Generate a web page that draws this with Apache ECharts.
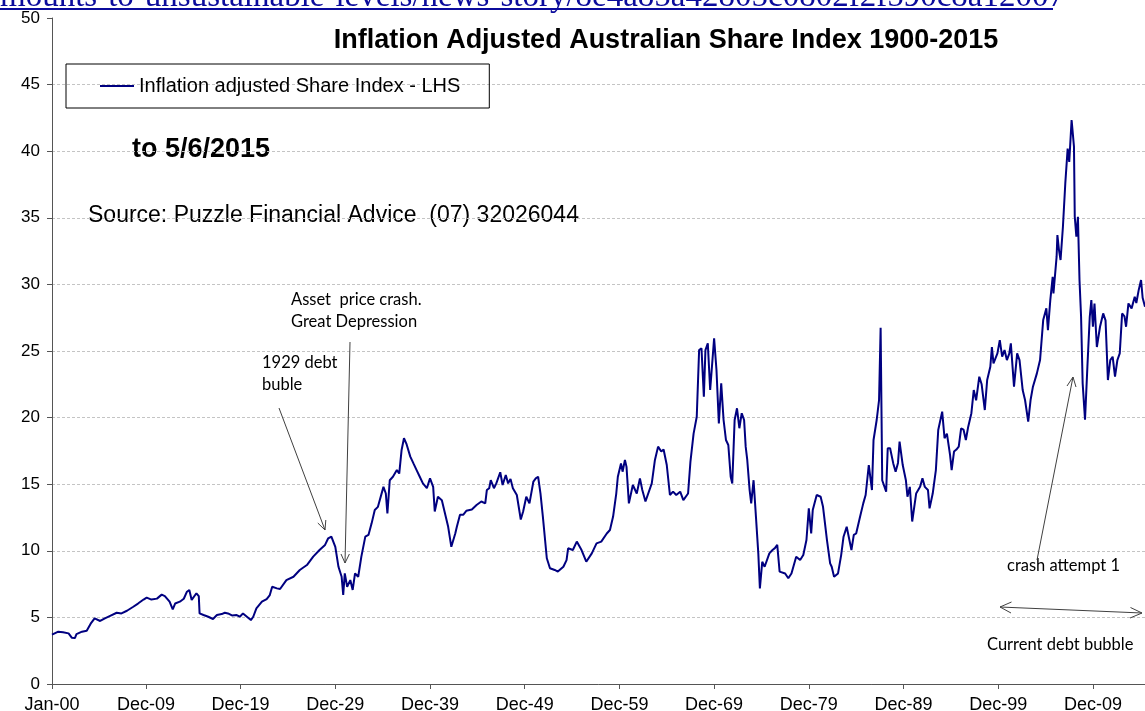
<!DOCTYPE html>
<html>
<head>
<meta charset="utf-8">
<script src="https://cdn.jsdelivr.net/npm/echarts@6/dist/echarts.min.js"></script>
<style>
  html, body { margin: 0; padding: 0; background: #fff; }
  #chart { width: 1145px; height: 711px; }
</style>
</head>
<body>
<div id="chart"></div>
<script>
// months since Jan 1900
const months = [
  0, 8, 14, 21, 25, 29, 31, 38, 44, 49, 54, 61, 67, 73, 82, 88, 95, 103, 109, 116,
  120, 126, 133, 139, 143, 149, 153, 156, 162, 167, 171, 174, 177, 183, 186, 187, 192, 198, 204, 209,
  215, 219, 223, 228, 234, 238, 242, 247, 252, 255, 259, 266, 272, 276, 279, 285, 289, 297, 306, 314,
  323, 331, 339, 346, 350, 354, 359, 363, 367, 369, 371, 374, 378, 381, 384, 388, 392, 397, 401, 405,
  409, 413, 420, 423, 425, 428, 432, 437, 440, 443, 446, 449, 454, 458, 462, 466, 470, 475, 479, 483,
  485, 489, 494, 498, 502, 506, 511, 513, 517, 521, 525, 532, 538, 544, 549, 551, 554, 556, 560, 563,
  568, 571, 575, 578, 581, 584, 589, 594, 597, 601, 605, 610, 613, 616, 619, 622, 627, 631, 637, 641,
  648, 652, 654, 660, 665, 671, 677, 684, 690, 696, 703, 707, 711, 715, 717, 721, 723, 726, 728, 731,
  736, 741, 745, 748, 752, 760, 764, 768, 772, 775, 779, 783, 787, 791, 796, 800, 806, 809, 813, 817,
  820, 823, 826, 828, 831, 834, 839, 842, 845, 848, 851, 854, 857, 860, 862, 865, 868, 871, 874, 877,
  879, 881, 884, 886, 889, 892, 895, 897, 900, 903, 909, 913, 916, 919, 922, 929, 933, 937, 943, 948,
  952, 956, 959, 962, 964, 969, 974, 977, 979, 982, 986, 988, 991, 996, 1000, 1003, 1007, 1013, 1016, 1019,
  1024, 1028, 1031, 1035, 1039, 1041, 1045, 1048, 1050, 1052, 1054, 1057, 1059, 1062, 1066, 1069, 1072, 1074, 1078, 1082,
  1084, 1087, 1090, 1095, 1100, 1103, 1106, 1110, 1112, 1116, 1120, 1123, 1128, 1131, 1134, 1138, 1140, 1143, 1146, 1149,
  1152, 1155, 1158, 1161, 1165, 1168, 1171, 1175, 1178, 1182, 1185, 1189, 1191, 1193, 1198, 1201, 1204, 1207, 1210, 1213,
  1215, 1219, 1223, 1226, 1230, 1233, 1237, 1240, 1243, 1248, 1252, 1256, 1260, 1262, 1265, 1268, 1269, 1273, 1274, 1276,
  1278, 1281, 1284, 1287, 1289, 1292, 1295, 1296, 1298, 1300, 1302, 1304, 1306, 1309, 1312, 1315, 1317, 1319, 1321, 1324,
  1328, 1332, 1335, 1338, 1341, 1344, 1347, 1350, 1353, 1356, 1359, 1361, 1364, 1368, 1372, 1374, 1377, 1380, 1382, 1385
];

const indexValues = [
  3.7, 3.93, 3.88, 3.8, 3.48, 3.45, 3.75, 3.93, 4.0, 4.53, 4.93, 4.73, 4.93, 5.1, 5.35, 5.3, 5.5, 5.8, 6.04, 6.34,
  6.49, 6.34, 6.41, 6.71, 6.6, 6.18, 5.6, 6.04, 6.18, 6.4, 6.93, 7.06, 6.31, 6.81, 6.6, 5.3, 5.18, 5.05, 4.88, 5.18,
  5.25, 5.35, 5.3, 5.15, 5.18, 5.05, 5.3, 5.05, 4.8, 5.05, 5.68, 6.18, 6.38, 6.68, 7.3, 7.18, 7.13, 7.8, 8.05, 8.56,
  8.93, 9.56, 10.06, 10.44, 10.94, 11.06, 10.3, 8.8, 8.05, 6.68, 8.3, 7.3, 7.8, 7.06, 8.3, 8.05, 9.56, 11.06, 11.19, 12.06,
  13.06, 13.3, 14.8, 14.3, 12.8, 15.3, 15.56, 16.06, 15.8, 17.57, 18.45, 18.05, 17.07, 16.56, 16.06, 15.56, 15.06, 14.7, 15.44, 14.8,
  12.95, 14.06, 13.8, 12.8, 11.8, 10.3, 11.3, 11.8, 12.7, 12.7, 13.0, 13.1, 13.44, 13.7, 13.56, 14.56, 14.7, 15.3, 14.7, 15.06,
  15.9, 14.94, 15.69, 15.06, 15.4, 14.7, 14.19, 12.35, 12.95, 14.06, 13.56, 15.2, 15.44, 15.56, 14.3, 12.57, 9.44, 8.69, 8.56, 8.44,
  8.8, 9.3, 10.19, 10.06, 10.69, 10.06, 9.18, 9.81, 10.56, 10.69, 11.3, 11.56, 12.57, 14.3, 15.56, 16.56, 15.94, 16.82, 16.3, 13.56,
  14.94, 14.3, 15.44, 14.56, 13.7, 15.06, 16.82, 17.82, 17.45, 17.6, 16.44, 14.19, 14.44, 14.19, 14.44, 13.8, 14.3, 16.7, 18.8, 20.06,
  25.07, 25.2, 21.57, 25.07, 25.57, 22.07, 25.95, 23.57, 19.56, 22.57, 19.82, 18.32, 17.94, 15.56, 15.06, 19.82, 20.7, 19.2, 20.33, 19.82,
  17.82, 16.82, 14.56, 13.56, 15.3, 12.57, 9.81, 7.18, 9.18, 8.8, 9.81, 10.06, 10.2, 10.44, 8.44, 8.3, 7.94, 8.3, 9.56, 9.31,
  9.68, 10.81, 13.19, 11.3, 13.06, 14.19, 14.06, 13.3, 12.3, 10.81, 9.06, 8.8, 8.05, 8.3, 9.68, 11.06, 11.8, 10.06, 11.19, 11.3,
  12.57, 13.56, 14.19, 16.44, 14.56, 18.32, 19.82, 21.32, 26.75, 15.3, 15.4, 14.44, 17.7, 17.7, 16.56, 15.94, 16.6, 18.2, 16.44, 15.3,
  14.06, 14.8, 12.2, 14.3, 14.8, 15.44, 14.8, 14.56, 13.19, 14.3, 16.06, 19.07, 20.45, 18.45, 18.8, 17.19, 16.06, 17.45, 17.6, 17.82,
  19.2, 19.1, 18.32, 19.32, 20.33, 22.07, 21.3, 23.07, 22.5, 20.57, 22.82, 23.82, 25.3, 24.07, 24.82, 25.82, 24.57, 25.07, 24.32, 24.8,
  25.57, 22.32, 24.82, 24.32, 22.07, 21.32, 19.7, 21.32, 22.32, 23.32, 24.32, 27.32, 28.2, 26.57, 28.82, 30.57, 29.32, 32.08, 33.7, 32.58,
  31.83, 34.33, 37.58, 40.2, 39.2, 42.34, 40.34, 35.08, 33.58, 35.08, 30.33, 27.57, 22.57, 19.85, 23.82, 27.57, 28.82, 26.82, 28.57, 25.3,
  26.82, 27.82, 27.3, 22.82, 24.32, 24.57, 23.07, 24.32, 24.82, 27.82, 27.6, 26.82, 28.57, 28.2, 29.07, 28.6, 29.57, 30.33, 29.0, 28.32
];

const tickMonths = [0, 119, 239, 359, 479, 599, 719, 839, 959, 1079, 1199, 1319];
const tickLabels = ['Jan-00', 'Dec-09', 'Dec-19', 'Dec-29', 'Dec-39', 'Dec-49', 'Dec-59', 'Dec-69', 'Dec-79', 'Dec-89', 'Dec-99', 'Dec-09'];

const chart = echarts.init(document.getElementById('chart'));

const arrowColor = '#404040';
const noteFont = '16.5px Lato';

// simple open arrow: shaft plus two short arms at the tip
const arrow = (x1, y1, x2, y2, a1, a2) => [
  { type: 'line', shape: { x1, y1, x2, y2 }, style: { stroke: arrowColor, lineWidth: 1 }, z: 10 },
  { type: 'polyline', shape: { points: [a1, [x2, y2], a2] }, style: { stroke: arrowColor, lineWidth: 1, fill: null }, z: 10 }
];

const note = (x, y, text) => ({
  type: 'text', x, y, z: 10,
  style: { text, font: noteFont, fill: '#000', align: 'left', verticalAlign: 'middle' }
});

const option = {
  backgroundColor: '#fff',
  animation: false,
  // labels may run off the bottom edge, as in the original
  grid: { left: 52, right: 0, top: 18, bottom: 27, outerBoundsMode: 'none' },
  legend: {
    left: 66,
    top: 64,
    padding: [12, 29, 12, 34],
    borderColor: '#000',
    borderWidth: 1,
    icon: 'rect',
    itemWidth: 34,
    itemHeight: 2,
    textStyle: { fontFamily: 'Liberation Sans', fontSize: 20, color: '#000' },
    data: ['Inflation adjusted Share Index - LHS']
  },
  xAxis: {
    type: 'value',
    min: 0,
    max: 1385,
    splitLine: { show: false },
    axisLine: { lineStyle: { color: '#555', width: 1 } },
    axisTick: { show: true, customValues: tickMonths, length: 5, lineStyle: { color: '#555' } },
    axisLabel: {
      customValues: tickMonths,
      margin: 12,
      fontFamily: 'Liberation Sans',
      fontSize: 18,
      color: '#000',
      formatter: v => tickLabels[tickMonths.indexOf(v)] || ''
    }
  },
  yAxis: {
    type: 'value',
    min: 0,
    max: 50,
    interval: 5,
    axisLine: { show: true, lineStyle: { color: '#555', width: 1 } },
    axisTick: { show: true, length: 5, lineStyle: { color: '#555' } },
    axisLabel: { margin: 12, fontFamily: 'Liberation Sans', fontSize: 17, color: '#000' },
    splitLine: { showMaxLine: false, lineStyle: { color: '#c4c4c4', type: [3, 2], width: 1 } }
  },
  series: [
    {
      name: 'Inflation adjusted Share Index - LHS',
      type: 'line',
      symbol: 'none',
      clip: true,
      data: months.map((m, i) => [m, indexValues[i]]),
      itemStyle: { color: '#000080' },
      lineStyle: { color: '#000080', width: 2 }
    }
  ],
  graphic: [
    // cut-off link text at the very top
    {
      type: 'text', x: 0, y: 14,
      style: {
        text: 'mounts-to-unsustainable-levels/news-story/8e4a85a42805c0802f2f590c8a12007',
        font: '33px "Liberation Serif"', fill: '#0b0b9c', align: 'left', verticalAlign: 'bottom'
      }
    },
    { type: 'rect', shape: { x: 0, y: 8, width: 1053, height: 2 }, style: { fill: '#0b0b9c' } },
    {
      type: 'text', x: 666, y: 41,
      style: {
        text: 'Inflation Adjusted Australian Share Index 1900-2015',
        font: 'bold 27px "Liberation Sans"', fill: '#000', align: 'center', verticalAlign: 'middle'
      }
    },
    {
      type: 'text', x: 132, y: 150,
      style: { text: 'to 5/6/2015', font: 'bold 27px "Liberation Sans"', fill: '#000', align: 'left', verticalAlign: 'middle' }
    },
    {
      type: 'text', x: 88, y: 216,
      style: { text: 'Source: Puzzle Financial Advice  (07) 32026044', font: '23px "Liberation Sans"', fill: '#000', align: 'left', verticalAlign: 'middle' }
    },
    note(291, 300, 'Asset  price crash.'),
    note(291, 322, 'Great Depression'),
    note(262, 363, '1929 debt'),
    note(262, 385, 'buble'),
    note(1007, 566, 'crash attempt 1'),
    note(987, 645, 'Current debt bubble'),
    ...arrow(279, 408, 325, 530, [317.8, 523], [325.8, 520]),
    ...arrow(350, 342, 345, 563, [341, 554], [349.4, 554]),
    ...arrow(1037, 560, 1073, 377, [1067, 386], [1076, 387]),
    ...arrow(1142, 613, 1000, 607, [1011.5, 602], [1011, 613]),
    { type: 'polyline', shape: { points: [[1130.5, 607.5], [1142, 613], [1130, 618]] }, style: { stroke: arrowColor, lineWidth: 1, fill: null }, z: 10 }
  ]
};

chart.setOption(option);
</script>
</body>
</html>
